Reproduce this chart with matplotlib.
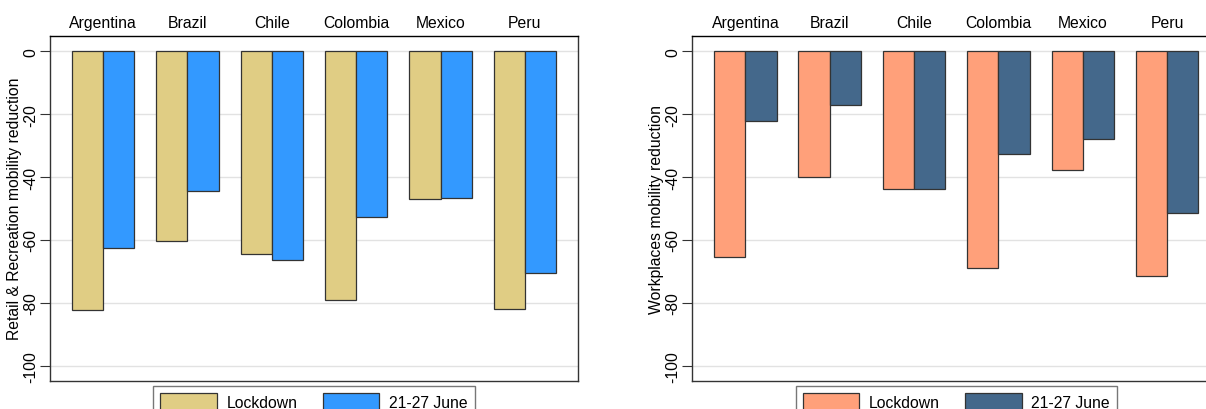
import matplotlib
matplotlib.use("Agg")
import matplotlib.pyplot as plt
import numpy as np

countries = ["Argentina", "Brazil", "Chile", "Colombia", "Mexico", "Peru"]
series_labels = ["Lockdown", "21-27 June"]

retail_lockdown = [-82.3, -60.3, -64.4, -79.0, -46.9, -81.9]
retail_june = [-62.5, -44.5, -66.3, -52.8, -46.5, -70.4]

work_lockdown = [-65.4, -39.9, -43.7, -68.8, -37.9, -71.4]
work_june = [-22.3, -17.0, -43.8, -32.8, -27.9, -51.3]

yticks = [0, -20, -40, -60, -80, -100]

plt.rcParams['font.family'] = ['Liberation Sans', 'DejaVu Sans']
FS = 11.3

W, H = 1206, 410
fig = plt.figure(figsize=(W / 100, H / 100), dpi=100)
fig.patch.set_facecolor('white')

ax_w, ax_h = 528, 345
ax_bottom = H - 381.7
panels = [
    dict(left=50, lock=retail_lockdown, june=retail_june,
         colors=("#E0CD84", "#3399FF"),
         ylabel="Retail & Recreation mobility reduction"),
    dict(left=692.3, lock=work_lockdown, june=work_june,
         colors=("#FFA07A", "#44688B"),
         ylabel="Workplaces mobility reduction"),
]

bw = 0.371
x = np.arange(len(countries))
for p in panels:
    ax = fig.add_axes([p['left'] / W, ax_bottom / H, ax_w / W, ax_h / H])
    ax.set_axisbelow(True)
    ax.yaxis.grid(True, color="#e2e2e2", linewidth=1.0)
    ax.bar(x - bw / 2, p['lock'], width=bw, color=p['colors'][0],
           edgecolor="#333333", linewidth=0.9, label=series_labels[0])
    ax.bar(x + bw / 2, p['june'], width=bw, color=p['colors'][1],
           edgecolor="#333333", linewidth=0.9, label=series_labels[1])
    ax.set_xlim(-0.63, 5.63)
    ax.set_ylim(-104.8, 5)
    ax.set_yticks(yticks)
    ax.set_yticklabels([str(v) for v in yticks], rotation=90, va='center',
                       fontsize=FS)
    ax.tick_params(axis='y', length=7, width=0.8, color="#333333", pad=1.5)
    ax.xaxis.tick_top()
    ax.set_xticks(x)
    ax.set_xticklabels(countries, fontsize=FS)
    ax.tick_params(axis='x', length=0, pad=4)
    ax.set_ylabel(p['ylabel'], fontsize=FS, labelpad=1)
    for s in ax.spines.values():
        s.set_color("#333333")
        s.set_linewidth(1.0)
    ax.spines['top'].set_color("#000000")
    leg = ax.legend(loc='upper center', bbox_to_anchor=(0.5, -0.016),
                    borderaxespad=0, ncol=2, frameon=True, fancybox=False,
                    fontsize=FS, handlelength=3.6, handleheight=1.3,
                    columnspacing=1.6, borderpad=0.45, handletextpad=0.62)
    leg.get_frame().set_edgecolor("#555555")
    leg.get_frame().set_linewidth(1.0)

fig.savefig("out.png", dpi=100)
